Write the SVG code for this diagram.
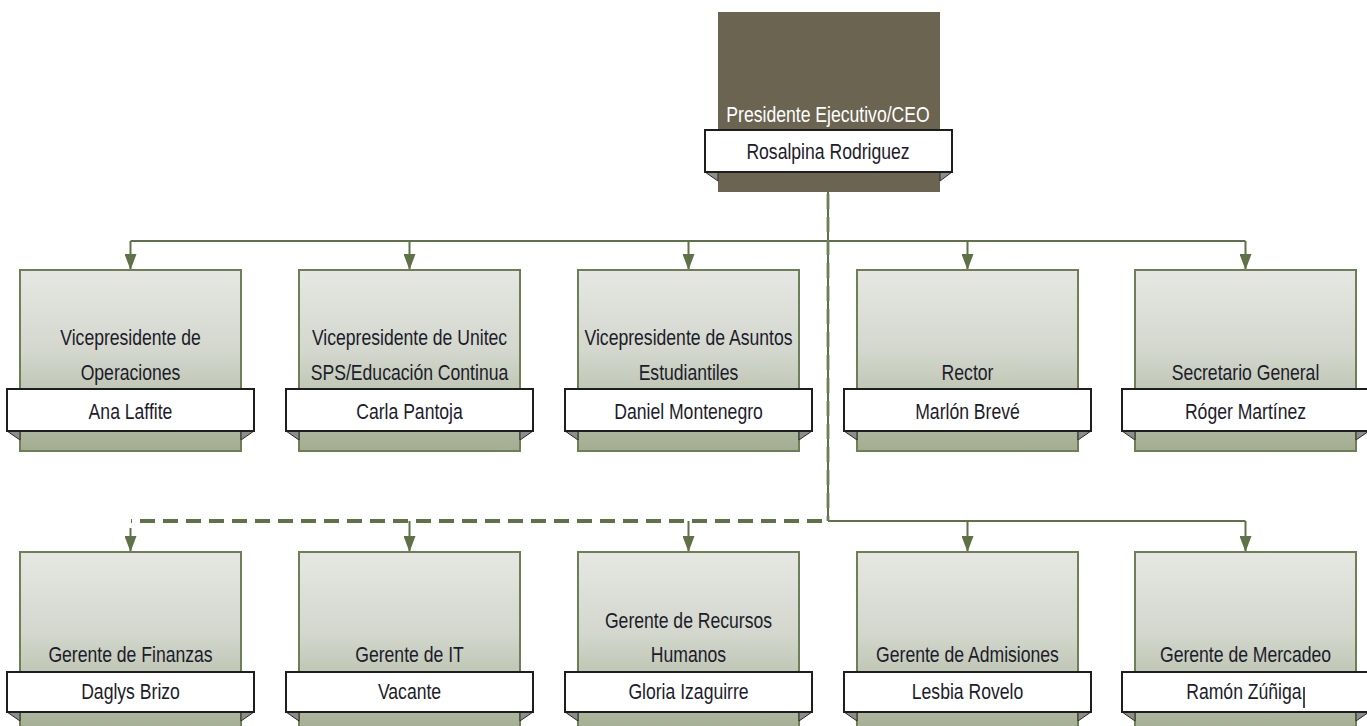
<svg xmlns="http://www.w3.org/2000/svg" width="1367" height="726" viewBox="0 0 1367 726">
  <style>
    .box { fill: url(#boxFill); stroke: #6e7e55; stroke-width: 2; }
    .ceo { fill: #6b6450; }
    .band { fill: #ffffff; stroke: #1e1e1e; stroke-width: 2; }
    .fold { fill: #8e8e88; stroke: #2a2a2a; stroke-width: 1; }
    .t { font-family: "Liberation Sans", Arial, sans-serif; font-size: 22px; fill: #1c1c2a; text-anchor: middle; }
    .w { fill: #ffffff; }
    .line { fill: none; stroke: #5f7146; stroke-width: 2; }
    .dash { fill: none; stroke: #5f7146; stroke-width: 4; stroke-dasharray: 15 8; }
    .vdash { fill: none; stroke: #6f8256; stroke-width: 3; stroke-dasharray: 15 8; opacity: 0.85; }
  </style>
  <defs>
    <linearGradient id="boxFill" x1="0" y1="0" x2="0" y2="1">
      <stop offset="0" stop-color="#e6e7e3"/>
      <stop offset="0.45" stop-color="#d3d7cd"/>
      <stop offset="1" stop-color="#a3ad91"/>
    </linearGradient>
    <marker id="arrow" viewBox="0 0 16 12" refX="16" refY="6" markerWidth="16" markerHeight="12" markerUnits="userSpaceOnUse" orient="auto">
      <path d="M0,0 L16,6 L0,12 z" fill="#5f7146"/>
    </marker>
  </defs>

  <!-- connectors -->
  <g id="connectors">
    <!-- CEO to direct reports (solid) -->
    <path class="line" d="M828,192 V521"/>
    <path class="line" d="M130.5,241 H1245.5"/>
    <path class="line" marker-end="url(#arrow)" d="M130.5,241 V270"/>
    <path class="line" marker-end="url(#arrow)" d="M409.5,241 V270"/>
    <path class="line" marker-end="url(#arrow)" d="M688.5,241 V270"/>
    <path class="line" marker-end="url(#arrow)" d="M967.5,241 V270"/>
    <path class="line" marker-end="url(#arrow)" d="M1245.5,241 V270"/>
    <path class="line" d="M828,521 H1245.5"/>
    <path class="line" marker-end="url(#arrow)" d="M967.5,521 V552"/>
    <path class="line" marker-end="url(#arrow)" d="M1245.5,521 V552"/>
    <!-- CEO to managers (dashed) -->
    <path class="vdash" d="M828,194 V521"/>
    <path class="dash" d="M822,521 H131"/>
    <path class="line" marker-end="url(#arrow)" d="M130.5,528 V552"/>
    <path class="line" marker-end="url(#arrow)" d="M409.5,521 V552"/>
    <path class="line" marker-end="url(#arrow)" d="M688.5,521 V552"/>
  </g>

  <!-- CEO -->
  <g id="node-ceo">
    <rect class="ceo" x="718" y="12" width="222" height="180"/>
    <polygon class="fold" points="705,172 718,172 718,181"/>
    <polygon class="fold" points="952,172 940,172 940,181"/>
    <rect class="band" x="705" y="130" width="247" height="42"/>
    <text class="t w" transform="translate(828 122) scale(.8 1)">Presidente Ejecutivo/CEO</text>
    <text class="t" transform="translate(828 159) scale(.8 1)">Rosalpina Rodriguez</text>
  </g>

  <!-- top row -->
  <g id="node-operaciones">
    <rect class="box" x="20" y="270" width="221" height="181"/>
    <polygon class="fold" points="7,431 20,431 20,440"/>
    <polygon class="fold" points="254,431 241,431 241,440"/>
    <rect class="band" x="7" y="389" width="247" height="42"/>
    <text class="t" transform="translate(130.5 345) scale(.8 1)">Vicepresidente de</text>
    <text class="t" transform="translate(130.5 380) scale(.8 1)">Operaciones</text>
    <text class="t" transform="translate(130.5 419) scale(.8 1)">Ana Laffite</text>
  </g>
  <g id="node-unitec">
    <rect class="box" x="299" y="270" width="221" height="181"/>
    <polygon class="fold" points="286,431 299,431 299,440"/>
    <polygon class="fold" points="533,431 520,431 520,440"/>
    <rect class="band" x="286" y="389" width="247" height="42"/>
    <text class="t" transform="translate(409.5 345) scale(.8 1)">Vicepresidente de Unitec</text>
    <text class="t" transform="translate(409.5 380) scale(.8 1)">SPS/Educación Continua</text>
    <text class="t" transform="translate(409.5 419) scale(.8 1)">Carla Pantoja</text>
  </g>
  <g id="node-estudiantiles">
    <rect class="box" x="578" y="270" width="221" height="181"/>
    <polygon class="fold" points="565,431 578,431 578,440"/>
    <polygon class="fold" points="812,431 799,431 799,440"/>
    <rect class="band" x="565" y="389" width="247" height="42"/>
    <text class="t" transform="translate(688.5 345) scale(.8 1)">Vicepresidente de Asuntos</text>
    <text class="t" transform="translate(688.5 380) scale(.8 1)">Estudiantiles</text>
    <text class="t" transform="translate(688.5 419) scale(.8 1)">Daniel Montenegro</text>
  </g>
  <g id="node-rector">
    <rect class="box" x="857" y="270" width="221" height="181"/>
    <polygon class="fold" points="844,431 857,431 857,440"/>
    <polygon class="fold" points="1091,431 1078,431 1078,440"/>
    <rect class="band" x="844" y="389" width="247" height="42"/>
    <text class="t" transform="translate(967.5 380) scale(.8 1)">Rector</text>
    <text class="t" transform="translate(967.5 419) scale(.8 1)">Marlón Brevé</text>
  </g>
  <g id="node-secretario">
    <rect class="box" x="1135" y="270" width="221" height="181"/>
    <polygon class="fold" points="1122,431 1135,431 1135,440"/>
    <polygon class="fold" points="1369,431 1356,431 1356,440"/>
    <rect class="band" x="1122" y="389" width="247" height="42"/>
    <text class="t" transform="translate(1245.5 380) scale(.8 1)">Secretario General</text>
    <text class="t" transform="translate(1245.5 419) scale(.8 1)">Róger Martínez</text>
  </g>

  <!-- bottom row -->
  <g id="node-finanzas">
    <rect class="box" x="20" y="552" width="221" height="181"/>
    <polygon class="fold" points="7,712 20,712 20,721"/>
    <polygon class="fold" points="254,712 241,712 241,721"/>
    <rect class="band" x="7" y="672" width="247" height="40"/>
    <text class="t" transform="translate(130.5 662) scale(.8 1)">Gerente de Finanzas</text>
    <text class="t" transform="translate(130.5 699) scale(.8 1)">Daglys Brizo</text>
  </g>
  <g id="node-it">
    <rect class="box" x="299" y="552" width="221" height="181"/>
    <polygon class="fold" points="286,712 299,712 299,721"/>
    <polygon class="fold" points="533,712 520,712 520,721"/>
    <rect class="band" x="286" y="672" width="247" height="40"/>
    <text class="t" transform="translate(409.5 662) scale(.8 1)">Gerente de IT</text>
    <text class="t" transform="translate(409.5 699) scale(.8 1)">Vacante</text>
  </g>
  <g id="node-rrhh">
    <rect class="box" x="578" y="552" width="221" height="181"/>
    <polygon class="fold" points="565,712 578,712 578,721"/>
    <polygon class="fold" points="812,712 799,712 799,721"/>
    <rect class="band" x="565" y="672" width="247" height="40"/>
    <text class="t" transform="translate(688.5 628) scale(.8 1)">Gerente de Recursos</text>
    <text class="t" transform="translate(688.5 662) scale(.8 1)">Humanos</text>
    <text class="t" transform="translate(688.5 699) scale(.8 1)">Gloria Izaguirre</text>
  </g>
  <g id="node-admisiones">
    <rect class="box" x="857" y="552" width="221" height="181"/>
    <polygon class="fold" points="844,712 857,712 857,721"/>
    <polygon class="fold" points="1091,712 1078,712 1078,721"/>
    <rect class="band" x="844" y="672" width="247" height="40"/>
    <text class="t" transform="translate(967.5 662) scale(.8 1)">Gerente de Admisiones</text>
    <text class="t" transform="translate(967.5 699) scale(.8 1)">Lesbia Rovelo</text>
  </g>
  <g id="node-mercadeo">
    <rect class="box" x="1135" y="552" width="221" height="181"/>
    <polygon class="fold" points="1122,712 1135,712 1135,721"/>
    <polygon class="fold" points="1369,712 1356,712 1356,721"/>
    <rect class="band" x="1122" y="672" width="247" height="40"/>
    <text class="t" transform="translate(1245.5 699) scale(.8 1)" dx="-2">Ramón Zúñiga</text>
    <text class="t" transform="translate(1245.5 662) scale(.8 1)">Gerente de Mercadeo</text>
    <!-- caret after the name -->
    <line x1="1304" y1="687" x2="1304" y2="708" stroke="#111" stroke-width="1.5"/>
  </g>
</svg>
